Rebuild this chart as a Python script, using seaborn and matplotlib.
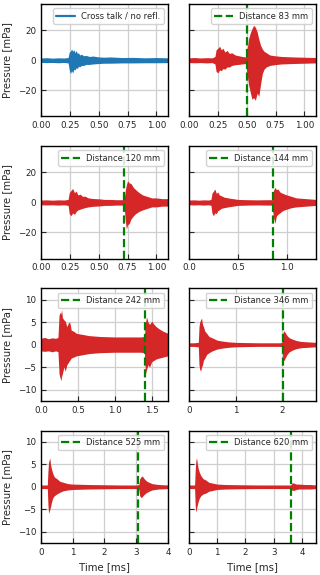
import matplotlib
matplotlib.use("Agg")
import pandas as pd
import matplotlib.pyplot as plt
import seaborn as sns

time_ct = [0.0, 0.05, 0.10, 0.15, 0.20, 0.235, 0.245, 0.255, 0.265, 0.275, 0.285, 0.295, 0.305, 0.315,
           0.325, 0.335, 0.35, 0.37, 0.39, 0.42, 0.45, 0.50, 0.55, 0.60, 0.70, 0.80, 0.90, 1.00, 1.10]
upper_ct = [1.5, 1.7, 1.4, 1.6, 1.5, 1.8, 5.5, 6.0, 7.5, 6.0, 7.0, 5.0, 6.5, 4.5,
            5.0, 3.5, 4.0, 3.0, 3.2, 2.5, 2.8, 2.2, 2.0, 2.2, 1.8, 1.9, 1.6, 1.8, 1.6]
lower_ct = [-1.5, -1.6, -1.5, -1.7, -1.5, -1.8, -6.5, -9.0, -7.0, -8.5, -6.0, -6.5, -5.0, -5.5,
            -4.0, -4.5, -3.5, -3.5, -2.8, -2.8, -2.5, -2.2, -2.0, -2.0, -1.8, -1.8, -1.7, -1.7, -1.6]

time_83 = [0, 0.05, 0.1, 0.15, 0.2, 0.225, 0.235, 0.25, 0.265, 0.28, 0.295, 0.31, 0.33, 0.35, 0.37, 0.40,
           0.43, 0.46, 0.49, 0.505, 0.515, 0.53, 0.545, 0.56, 0.575, 0.59, 0.605, 0.62, 0.635, 0.65, 0.67,
           0.70, 0.74, 0.80, 0.90, 1.0, 1.1]
upper_83 = [1.6, 1.8, 1.5, 1.7, 1.6, 2.5, 7.0, 8.0, 9.3, 7.0, 8.0, 5.5, 6.5, 4.5, 5.0, 3.5,
            3.0, 2.5, 2.2, 8.0, 14.0, 18.0, 21.0, 23.3, 22.0, 19.0, 14.0, 10.0, 7.5, 6.0, 5.0,
            3.5, 3.0, 2.5, 2.2, 2.0, 1.8]
lower_83 = [-1.6, -1.7, -1.6, -1.8, -1.6, -2.5, -7.5, -8.4, -6.5, -7.0, -5.5, -6.0, -4.5, -4.5, -3.5, -3.0,
            -2.8, -2.5, -2.2, -10.0, -16.0, -21.0, -26.0, -25.0, -26.7, -22.0, -24.0, -16.0, -9.0, -6.0, -4.5,
            -3.5, -3.0, -2.5, -2.2, -2.0, -1.8]

time_120 = [0, 0.05, 0.1, 0.15, 0.2, 0.235, 0.245, 0.26, 0.275, 0.29, 0.305, 0.32, 0.34, 0.36, 0.38, 0.41,
            0.45, 0.50, 0.55, 0.60, 0.65, 0.70, 0.72, 0.73, 0.74, 0.75, 0.765, 0.78, 0.80, 0.82, 0.85,
            0.88, 0.92, 0.96, 1.0, 1.05, 1.1]
upper_120 = [1.6, 1.7, 1.5, 1.7, 1.6, 2.0, 6.5, 8.0, 9.3, 6.5, 7.5, 5.0, 5.5, 4.0, 4.2, 3.0,
             2.6, 2.4, 2.0, 2.0, 1.8, 1.8, 2.0, 8.0, 12.0, 14.4, 13.0, 12.5, 10.0, 8.5, 6.5,
             5.0, 4.0, 3.0, 3.0, 2.5, 2.5]
lower_120 = [-1.6, -1.7, -1.6, -1.8, -1.6, -2.0, -7.5, -8.9, -7.0, -8.0, -6.0, -5.0, -4.5, -4.0, -3.5, -3.0,
             -2.6, -2.4, -2.0, -2.0, -1.8, -1.8, -2.0, -12.0, -17.8, -15.0, -14.0, -11.0, -9.0, -7.5, -6.0,
             -5.0, -4.0, -3.0, -3.0, -2.5, -2.5]

time_144 = [0, 0.05, 0.1, 0.15, 0.2, 0.225, 0.235, 0.25, 0.265, 0.28, 0.295, 0.31, 0.33, 0.36, 0.40, 0.45,
            0.5, 0.6, 0.7, 0.8, 0.85, 0.865, 0.88, 0.895, 0.91, 0.93, 0.96, 1.0, 1.05, 1.1, 1.2, 1.3]
upper_144 = [1.6, 1.7, 1.5, 1.7, 1.6, 2.0, 6.0, 7.5, 8.9, 6.0, 7.0, 5.0, 4.5, 3.5, 3.0, 2.5,
             2.0, 1.8, 1.7, 1.8, 1.8, 8.0, 10.0, 8.5, 9.0, 7.0, 6.0, 5.0, 4.0, 3.0, 2.5, 2.0]
lower_144 = [-1.6, -1.7, -1.6, -1.8, -1.6, -2.0, -7.0, -8.9, -7.0, -7.5, -5.5, -5.0, -4.0, -3.5, -3.0, -2.5,
             -2.0, -1.8, -1.7, -1.8, -1.8, -10.0, -14.0, -9.0, -8.0, -7.0, -5.5, -4.5, -3.5, -3.0, -2.5, -2.0]

time_242 = [0, 0.05, 0.1, 0.15, 0.2, 0.23, 0.245, 0.26, 0.27, 0.28, 0.29, 0.31, 0.33, 0.35, 0.37, 0.39,
            0.41, 0.44, 0.48, 0.55, 0.65, 0.8, 1.0, 1.2, 1.35, 1.40, 1.415, 1.43, 1.45, 1.47, 1.50,
            1.53, 1.56, 1.60, 1.65, 1.72]
upper_242 = [1.4, 1.6, 1.3, 1.5, 1.4, 1.6, 6.5, 7.2, 6.8, 7.8, 6.0, 5.5, 5.2, 4.0, 4.8, 5.0,
             3.2, 3.0, 2.5, 2.3, 2.0, 1.8, 1.7, 1.7, 1.7, 1.8, 5.0, 6.1, 5.0, 4.5, 5.2,
             4.5, 4.0, 3.5, 3.0, 2.5]
lower_242 = [-1.4, -1.5, -1.4, -1.6, -1.4, -1.6, -6.5, -7.5, -8.0, -7.0, -6.5, -5.0, -5.9, -4.5, -4.0, -3.5,
             -3.0, -2.8, -2.5, -2.3, -2.0, -1.8, -1.7, -1.7, -1.7, -1.8, -6.5, -5.5, -4.5, -5.0, -3.8,
             -3.5, -3.2, -3.0, -2.8, -2.5]

time_346 = [0, 0.1, 0.2, 0.215, 0.23, 0.25, 0.27, 0.29, 0.31, 0.34, 0.38, 0.43, 0.5, 0.6, 0.7, 0.85,
            1.0, 1.2, 1.5, 1.8, 1.95, 1.99, 2.01, 2.03, 2.06, 2.1, 2.15, 2.22, 2.3, 2.4, 2.55, 2.72]
upper_346 = [0.4, 0.4, 0.5, 4.0, 5.0, 5.5, 5.9, 4.5, 4.0, 3.0, 2.5, 1.8, 1.5, 1.0, 0.8, 0.6,
             0.5, 0.45, 0.4, 0.4, 0.4, 0.5, 2.5, 3.1, 2.7, 2.0, 1.5, 1.2, 0.9, 0.7, 0.6, 0.5]
lower_346 = [-0.4, -0.4, -0.5, -4.5, -5.5, -5.9, -5.0, -4.5, -3.5, -3.0, -2.2, -1.8, -1.4, -1.0, -0.8, -0.6,
             -0.5, -0.45, -0.4, -0.4, -0.4, -0.5, -3.0, -3.6, -3.0, -2.2, -1.6, -1.2, -0.9, -0.7, -0.6, -0.5]

time_525 = [0, 0.1, 0.2, 0.22, 0.24, 0.26, 0.28, 0.30, 0.33, 0.37, 0.42, 0.5, 0.6, 0.7, 0.85, 1.0,
            1.5, 2.0, 2.5, 3.0, 3.08, 3.11, 3.15, 3.19, 3.25, 3.32, 3.4, 3.5, 3.7, 4.0]
upper_525 = [0.4, 0.4, 0.4, 3.5, 5.5, 6.0, 6.4, 5.0, 4.0, 3.0, 2.2, 1.8, 1.2, 1.0, 0.7, 0.6,
             0.5, 0.45, 0.4, 0.4, 0.5, 1.8, 2.2, 2.4, 1.8, 1.3, 1.0, 0.7, 0.5, 0.4]
lower_525 = [-0.4, -0.4, -0.4, -4.0, -5.9, -5.5, -5.0, -4.5, -3.5, -2.5, -2.0, -1.6, -1.2, -0.9, -0.7, -0.6,
             -0.5, -0.45, -0.4, -0.4, -0.5, -2.0, -2.4, -2.2, -1.7, -1.3, -1.0, -0.7, -0.5, -0.4]

time_620 = [0, 0.1, 0.2, 0.22, 0.24, 0.26, 0.28, 0.30, 0.33, 0.37, 0.42, 0.5, 0.6, 0.7, 0.85, 1.0,
            1.3, 1.8, 2.5, 3.0, 3.5, 3.6, 3.66, 3.72, 3.8, 3.9, 4.1, 4.3, 4.5]
upper_620 = [0.4, 0.4, 0.4, 3.5, 5.5, 6.4, 6.0, 5.0, 4.0, 3.2, 2.5, 1.8, 1.5, 1.0, 0.8, 0.6,
             0.5, 0.45, 0.4, 0.4, 0.4, 0.4, 0.9, 0.8, 0.6, 0.6, 0.5, 0.5, 0.4]
lower_620 = [-0.4, -0.4, -0.4, -4.0, -5.6, -5.2, -4.5, -4.0, -3.2, -2.5, -2.0, -1.6, -1.4, -1.0, -0.8, -0.6,
             -0.5, -0.45, -0.4, -0.4, -0.4, -0.4, -0.8, -0.8, -0.6, -0.5, -0.5, -0.5, -0.4]

distances = [None, 83, 120, 144, 242, 346, 525, 620]          # mm
arrival = [None, 0.50, 0.72, 0.86, 1.41, 2.02, 3.07, 3.62]     # ms, dashed marker
x_max = [1.1, 1.1, 1.1, 1.3, 1.72, 2.72, 4.0, 4.5]
x_ticks = [[0, 0.25, 0.5, 0.75, 1.0]] * 3 + [[0, 0.5, 1.0], [0, 0.5, 1.0, 1.5], [0, 1, 2],
                                             [0, 1, 2, 3, 4], [0, 1, 2, 3, 4]]
x_fmt = ["{:.2f}"] * 3 + ["{:.1f}", "{:.1f}", "{:.0f}", "{:.0f}", "{:.0f}"]

signals = [(time_ct, upper_ct, lower_ct), (time_83, upper_83, lower_83),
           (time_120, upper_120, lower_120), (time_144, upper_144, lower_144),
           (time_242, upper_242, lower_242), (time_346, upper_346, lower_346),
           (time_525, upper_525, lower_525), (time_620, upper_620, lower_620)]

sns.set_style("whitegrid", {"axes.edgecolor": "black", "grid.color": "#cfcfcf",
                            "xtick.bottom": True, "ytick.left": True})
plt.rcParams.update({
    "font.family": ["DejaVu Sans"],
    "xtick.direction": "in", "ytick.direction": "in",
    "xtick.major.size": 3.5, "ytick.major.size": 3.5,
    "xtick.major.width": 0.8, "ytick.major.width": 0.8,
    "xtick.labelsize": 6.3, "ytick.labelsize": 6.3,
    "axes.labelsize": 7.3, "legend.fontsize": 6,
    "axes.linewidth": 1.0, "grid.linewidth": 0.9,
})

fig, axes = plt.subplots(4, 2, figsize=(3.2, 5.75), dpi=100, sharey="row")
fig.subplots_adjust(left=0.128, right=0.9875, top=0.993, bottom=0.0557, wspace=0.165, hspace=0.265)

for i, ax in enumerate(axes.flat):
    t, up, lo = signals[i]
    df = pd.DataFrame({"t": list(t) + list(t), "p": list(up) + list(lo)})
    color = "tab:blue" if i == 0 else "tab:red"
    # min/max band of the envelope points (percentile interval 100)
    sns.lineplot(data=df, x="t", y="p", ax=ax, estimator="mean", errorbar=("pi", 100),
                 color=color, linewidth=0.6, err_kws={"alpha": 1, "linewidth": 0},
                 label="Cross talk / no refl." if i == 0 else None, legend=False)
    if i == 0:
        ax.lines[0].set_linewidth(0.6)
    else:
        ax.axvline(arrival[i], color="green", ls="--", lw=1.6,
                   label=f"Distance {distances[i]} mm")
    leg = ax.legend(loc="upper right", handlelength=2.2, framealpha=0.85, edgecolor="#cccccc")
    if i == 0:
        leg.get_lines()[0].set_linewidth(1.6)

    ax.set_xlim(0, x_max[i])
    ax.set_xticks(x_ticks[i])
    ax.set_xticklabels([x_fmt[i].format(v) for v in x_ticks[i]])
    if i < 4:
        ax.set_ylim(-37.5, 37.5)
        ax.set_yticks([-20, 0, 20])
    else:
        ax.set_ylim(-12.5, 12.5)
        ax.set_yticks([-10, -5, 0, 5, 10])
    ax.set_xlabel("Time [ms]" if i >= 6 else "")
    ax.set_ylabel("Pressure [mPa]" if i % 2 == 0 else "")
    ax.grid(True)

fig.savefig("out.png", dpi=100)
